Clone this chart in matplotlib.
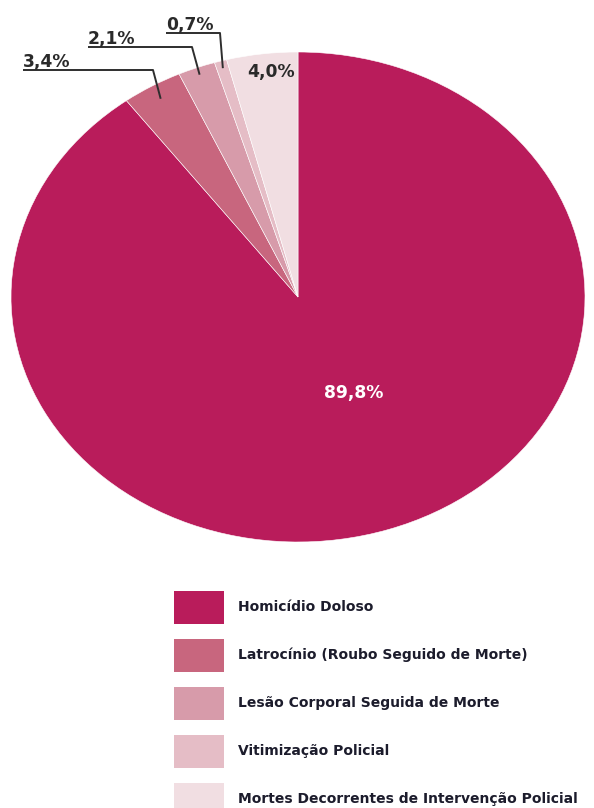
import numpy as np
import matplotlib
matplotlib.use("Agg")
import matplotlib.pyplot as plt

plt.rcParams['font.family'] = ['DejaVu Sans']

categorias = ['Homicídio Doloso',
              'Latrocínio (Roubo Seguido de Morte)',
              'Lesão Corporal Seguida de Morte',
              'Vitimização Policial',
              'Mortes Decorrentes de Intervenção Policial']
valores = [89.8, 3.4, 2.1, 0.7, 4.0]
rotulos = ['89,8%', '3,4%', '2,1%', '0,7%', '4,0%']
cores = ['#B91C5B', '#C8667E', '#D79BAA', '#E5BDC6', '#F1DEE2']

W, H = 594, 808
fig = plt.figure(figsize=(W / 100, H / 100), dpi=100)
fig.patch.set_facecolor('white')

# ellipse spans x 11..585 px, y 52..542 px
cx, cy, rx, ry = 298, 297, 287, 245
ax = fig.add_axes([(cx - rx) / W, 1 - (cy + ry) / H, 2 * rx / W, 2 * ry / H])

wedges, _ = ax.pie(valores, colors=cores, startangle=90, counterclock=False,
                   wedgeprops=dict(edgecolor='white', linewidth=0.4))
ax.set_aspect('auto')
ax.set_xlim(-1, 1)
ax.set_ylim(-1, 1)


def px(x, y):
    # figure pixel -> data coords
    return (x - cx) / rx, (cy - y) / ry


fs_lab = 12.3

# label inside the big wedge
tx, ty = px(354, 393)
ax.text(tx, ty, rotulos[0], color='white', fontsize=fs_lab, fontweight='bold',
        ha='center', va='center')

# label for the last wedge, inside it
tx, ty = px(271, 72)
ax.text(tx, ty, rotulos[4], color='#2a2a2a', fontsize=fs_lab, fontweight='bold',
        ha='center', va='center')

# small wedges: leader lines with underline
linhas = {1: (23, 153, 70, 0.94), 2: (88, 192, 47, 0.97), 3: (166, 220, 33, 0.97)}
for i, (x0, x1, yl, r) in linhas.items():
    w = wedges[i]
    ang = np.deg2rad((w.theta1 + w.theta2) / 2)
    px0, py0 = np.cos(ang) * r, np.sin(ang) * r
    ax0, ay = px(x0, yl)
    ax1, _ = px(x1, yl)
    ax.plot([ax0, ax1, px0], [ay, ay, py0], color='#2e2e2e', lw=1.4,
            clip_on=False, solid_capstyle='butt')
    ax.text(ax0, ay + 3 / ry, rotulos[i], color='#2a2a2a', fontsize=fs_lab,
            fontweight='bold', ha='left', va='baseline')

fs_leg = 10
leg = fig.legend(wedges, categorias, loc='upper left',
                 bbox_to_anchor=(174 / W, 1 - 591 / H), frameon=False,
                 fontsize=fs_leg, borderpad=0, handlelength=3.6, handleheight=3.275,
                 labelspacing=1.08, handletextpad=1.0, borderaxespad=0)
for t in leg.get_texts():
    t.set_color('#1c1c2c')
    t.set_fontweight('bold')
for h in leg.legend_handles:
    h.set_edgecolor('none')

fig.savefig('out.png', dpi=100)
